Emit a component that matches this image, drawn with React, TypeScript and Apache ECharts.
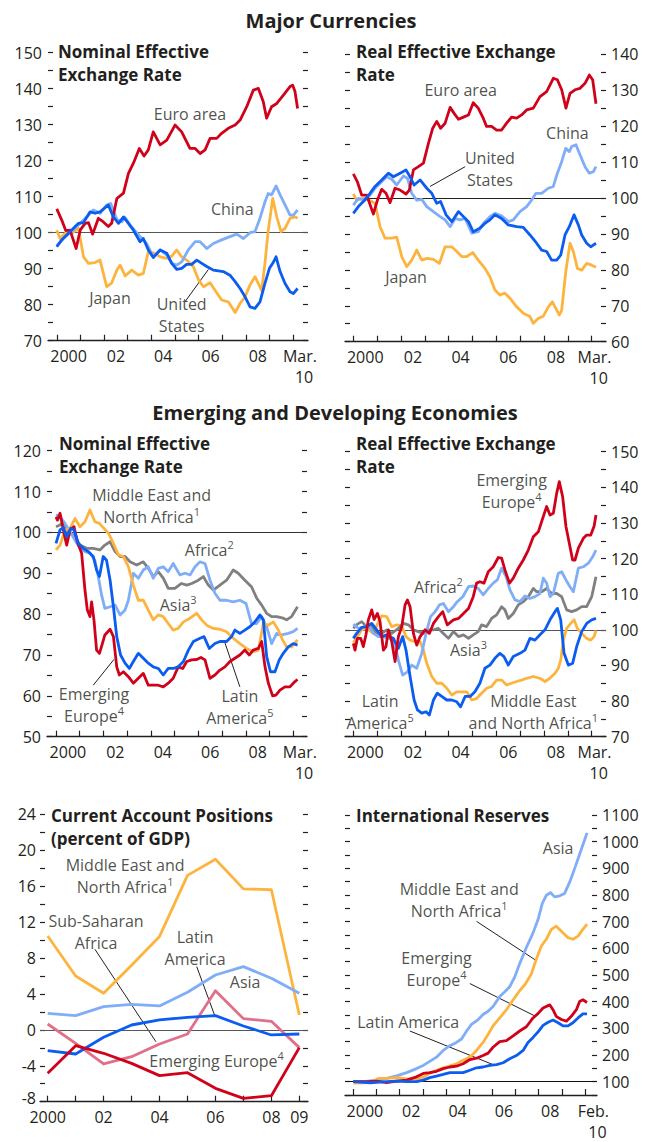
import React, { useEffect, useRef } from "react";
import * as echarts from "echarts";

const FONT = '"Open Sans", "Noto Sans", sans-serif';
const INK = "#231F20";
const RED = "#D0021B";
const ORANGE = "#FDB43F";
const LBLUE = "#7FADF7";
const BLUE = "#0B5CF0";
const GRAY = "#808080";
const PINK = "#E06F89";

type Pt = [number, number];

// ---------- axis ticks & labels ----------
const yearTicks = [2000, 2001, 2002, 2003, 2004, 2005, 2006, 2007, 2008, 2009, 2010];
const monthlyLabels = ["2000", "02", "04", "06", "08"];
const monthlyLabelAt = [2000.5, 2002.5, 2004.5, 2006.5, 2008.5];
const endLabelMar = "Mar.\n  10";
const endLabelFeb = "Feb.\n  10";
const caYears = [2000, 2001, 2002, 2003, 2004, 2005, 2006, 2007, 2008, 2009];
const caLabels = ["2000", "02", "04", "06", "08", "09"];
const caLabelAt = [2000, 2002, 2004, 2006, 2008, 2009];

// ---------- Major currencies: nominal effective exchange rate ----------
const neerEuro: Pt[] = [
  [2000.0, 106.6], [2000.21, 103.5], [2000.38, 100.6], [2000.56, 100.7], [2000.82, 95.6], [2000.99, 100.7],
  [2001.2, 102.6], [2001.34, 102.8], [2001.52, 99.6], [2001.76, 104.0], [2001.97, 103.0], [2002.18, 101.7],
  [2002.32, 102.6], [2002.54, 109.5], [2002.82, 111.0], [2003.03, 116.5], [2003.24, 119.3], [2003.49, 123.4],
  [2003.69, 121.3], [2003.87, 123.0], [2004.08, 128.0], [2004.37, 124.4], [2004.65, 125.7], [2005.0, 129.9],
  [2005.28, 128.0], [2005.63, 123.4], [2005.85, 123.4], [2006.06, 122.0], [2006.27, 123.0], [2006.48, 126.2],
  [2006.76, 126.2], [2006.97, 127.6], [2007.25, 129.0], [2007.54, 129.9], [2007.75, 131.3], [2008.03, 135.0],
  [2008.31, 139.6], [2008.52, 140.1], [2008.73, 136.4], [2008.87, 131.8], [2009.08, 135.0], [2009.3, 135.9],
  [2009.58, 138.2], [2009.86, 140.6], [2009.97, 141.0], [2010.07, 139.2], [2010.18, 134.5],
];
const neerJapan: Pt[] = [
  [2000.0, 100.7], [2000.14, 98.4], [2000.35, 99.8], [2000.63, 99.8], [2000.92, 101.2], [2001.13, 93.3],
  [2001.34, 91.5], [2001.62, 91.7], [2001.83, 92.4], [2002.11, 85.0], [2002.32, 86.0], [2002.54, 89.6],
  [2002.68, 91.0], [2002.89, 88.0], [2003.17, 89.6], [2003.45, 88.2], [2003.66, 88.7], [2003.87, 94.7],
  [2004.08, 94.4], [2004.37, 93.3], [2004.65, 92.9], [2004.86, 93.5], [2005.07, 95.2], [2005.28, 93.3],
  [2005.49, 92.4], [2005.77, 90.6], [2005.99, 86.9], [2006.2, 85.0], [2006.48, 86.1], [2006.69, 84.0],
  [2006.97, 81.3], [2007.25, 80.8], [2007.54, 77.8], [2007.75, 80.4], [2007.96, 82.2], [2008.17, 85.5],
  [2008.38, 87.8], [2008.66, 84.0], [2008.8, 91.5], [2008.94, 100.7], [2009.13, 109.5], [2009.3, 104.4],
  [2009.48, 100.3], [2009.65, 101.2], [2009.86, 104.0], [2010.07, 104.4], [2010.18, 104.0],
];
const neerChina: Pt[] = [
  [2000.0, 96.3], [2000.28, 98.4], [2000.63, 100.3], [2000.99, 102.6], [2001.27, 104.4], [2001.55, 106.3],
  [2001.83, 105.4], [2002.11, 107.7], [2002.28, 108.1], [2002.54, 103.7], [2002.75, 103.0], [2002.89, 104.2],
  [2003.1, 102.1], [2003.38, 100.0], [2003.59, 98.4], [2003.8, 97.0], [2004.08, 93.3], [2004.37, 95.2],
  [2004.65, 93.8], [2004.86, 91.5], [2005.07, 91.0], [2005.28, 91.9], [2005.56, 95.2], [2005.85, 97.5],
  [2006.06, 97.5], [2006.34, 95.6], [2006.62, 97.0], [2006.97, 98.0], [2007.32, 98.9], [2007.61, 99.6],
  [2007.89, 98.4], [2008.17, 100.0], [2008.38, 100.3], [2008.59, 104.0], [2008.8, 108.6], [2008.94, 110.9],
  [2009.08, 110.5], [2009.27, 113.0], [2009.44, 110.5], [2009.65, 107.7], [2009.86, 104.9], [2010.0, 104.9],
  [2010.18, 106.3],
];
const neerUS: Pt[] = [
  [2000.0, 96.1], [2000.21, 98.0], [2000.56, 100.3], [2000.92, 102.6], [2001.13, 102.8], [2001.41, 105.8],
  [2001.62, 105.4], [2001.83, 105.8], [2002.18, 107.7], [2002.39, 104.4], [2002.61, 102.6], [2002.82, 104.4],
  [2003.03, 102.6], [2003.24, 100.7], [2003.52, 97.5], [2003.66, 98.4], [2003.87, 95.2], [2004.08, 93.1],
  [2004.37, 95.2], [2004.65, 94.3], [2004.86, 91.5], [2005.07, 89.8], [2005.28, 90.1], [2005.49, 91.2],
  [2005.7, 91.2], [2005.92, 92.4], [2006.13, 91.5], [2006.34, 90.6], [2006.62, 89.6], [2007.04, 89.2],
  [2007.32, 88.2], [2007.54, 86.4], [2007.75, 84.5], [2007.96, 82.2], [2008.17, 79.4], [2008.38, 79.0],
  [2008.59, 80.8], [2008.8, 85.9], [2008.99, 90.1], [2009.13, 91.5], [2009.27, 93.3], [2009.44, 89.2],
  [2009.65, 85.9], [2009.86, 83.6], [2010.0, 83.1], [2010.18, 84.5],
];

// ---------- Major currencies: real effective exchange rate ----------
const reerEuro: Pt[] = [
  [2000.0, 106.7], [2000.17, 104.5], [2000.35, 100.8], [2000.56, 100.8], [2000.84, 95.5], [2001.01, 99.4],
  [2001.19, 102.4], [2001.37, 101.3], [2001.54, 98.7], [2001.75, 102.7], [2001.96, 102.2], [2002.21, 101.1],
  [2002.35, 102.2], [2002.52, 107.8], [2002.73, 108.7], [2002.94, 109.7], [2003.15, 115.2], [2003.33, 119.4],
  [2003.5, 121.3], [2003.66, 119.4], [2003.85, 120.8], [2004.06, 125.2], [2004.22, 123.6], [2004.41, 121.9],
  [2004.62, 122.5], [2004.83, 123.1], [2005.03, 126.5], [2005.24, 125.0], [2005.45, 122.2], [2005.59, 119.9],
  [2005.8, 119.9], [2006.01, 118.9], [2006.22, 118.9], [2006.43, 120.8], [2006.64, 122.5], [2006.85, 122.2],
  [2007.06, 123.1], [2007.27, 124.5], [2007.55, 125.0], [2007.83, 128.2], [2008.11, 129.6], [2008.39, 133.3],
  [2008.56, 132.9], [2008.74, 130.1], [2008.92, 125.0], [2009.09, 129.1], [2009.3, 130.1], [2009.51, 130.5],
  [2009.72, 131.9], [2009.9, 134.2], [2010.04, 132.9], [2010.18, 126.2],
];
const reerJapan: Pt[] = [
  [2000.0, 101.1], [2000.14, 99.4], [2000.42, 99.9], [2000.7, 99.3], [2000.91, 98.5], [2001.12, 92.0],
  [2001.33, 88.8], [2001.61, 88.8], [2001.82, 89.1], [2002.03, 83.7], [2002.24, 80.9], [2002.45, 82.7],
  [2002.66, 85.5], [2002.87, 82.7], [2003.08, 83.2], [2003.36, 82.9], [2003.61, 81.8], [2003.85, 86.4],
  [2004.13, 86.4], [2004.34, 85.1], [2004.55, 83.7], [2004.76, 83.7], [2005.01, 84.8], [2005.24, 82.7],
  [2005.52, 80.4], [2005.73, 78.1], [2005.94, 74.4], [2006.15, 73.0], [2006.36, 73.5], [2006.57, 72.1],
  [2006.85, 69.7], [2007.13, 67.9], [2007.41, 67.0], [2007.55, 65.1], [2007.76, 66.5], [2007.97, 67.1],
  [2008.18, 69.7], [2008.35, 71.1], [2008.46, 69.7], [2008.64, 67.4], [2008.74, 68.8], [2008.92, 79.9],
  [2009.09, 87.4], [2009.23, 85.1], [2009.4, 80.4], [2009.58, 79.9], [2009.79, 81.8], [2010.0, 81.3],
  [2010.18, 80.7],
];
const reerChina: Pt[] = [
  [2000.0, 98.0], [2000.21, 99.9], [2000.49, 99.4], [2000.7, 100.8], [2000.91, 102.7], [2001.12, 104.1],
  [2001.4, 105.9], [2001.61, 105.2], [2001.82, 103.6], [2002.1, 106.1], [2002.27, 105.5], [2002.45, 101.3],
  [2002.66, 99.4], [2002.87, 99.6], [2003.08, 97.6], [2003.36, 96.2], [2003.64, 94.8], [2003.85, 93.9],
  [2004.06, 92.0], [2004.27, 94.3], [2004.48, 93.9], [2004.69, 94.3], [2004.97, 90.2], [2005.24, 90.6],
  [2005.45, 92.9], [2005.73, 94.8], [2005.94, 95.7], [2006.22, 95.0], [2006.5, 93.4], [2006.71, 93.9],
  [2006.99, 96.2], [2007.27, 97.6], [2007.48, 99.4], [2007.66, 101.3], [2007.9, 101.3], [2008.18, 102.7],
  [2008.39, 103.2], [2008.56, 106.9], [2008.74, 110.1], [2008.91, 113.8], [2009.06, 112.9], [2009.16, 114.3],
  [2009.34, 114.8], [2009.51, 112.0], [2009.72, 108.7], [2009.9, 106.9], [2010.07, 107.3], [2010.18, 108.7],
];
const reerUS: Pt[] = [
  [2000.0, 95.7], [2000.21, 97.6], [2000.42, 99.0], [2000.7, 101.3], [2000.91, 103.2], [2001.19, 105.0],
  [2001.47, 106.9], [2001.68, 105.9], [2001.96, 106.9], [2002.21, 107.8], [2002.38, 105.9], [2002.55, 103.6],
  [2002.8, 105.0], [2003.08, 102.7], [2003.29, 101.3], [2003.5, 98.5], [2003.66, 99.0], [2003.89, 95.3],
  [2004.13, 93.4], [2004.41, 96.2], [2004.62, 94.8], [2004.83, 93.4], [2005.03, 90.6], [2005.31, 91.6],
  [2005.52, 92.9], [2005.73, 93.9], [2005.94, 95.3], [2006.22, 94.3], [2006.5, 92.5], [2006.85, 92.0],
  [2007.13, 91.8], [2007.41, 89.7], [2007.69, 87.4], [2007.9, 85.5], [2008.11, 85.1], [2008.32, 82.7],
  [2008.53, 82.7], [2008.7, 84.1], [2008.88, 89.7], [2009.06, 92.0], [2009.26, 95.3], [2009.44, 92.5],
  [2009.58, 89.7], [2009.79, 87.4], [2009.96, 86.4], [2010.18, 87.4],
];

// ---------- Emerging: nominal effective exchange rate ----------
const emNeerEurope: Pt[] = [
  [2000.0, 103.8], [2000.06, 103.0], [2000.17, 104.7], [2000.31, 100.6], [2000.45, 96.9], [2000.59, 100.6],
  [2000.76, 101.4], [2000.9, 97.7], [2001.08, 94.9], [2001.22, 85.9], [2001.32, 81.0], [2001.43, 79.4],
  [2001.5, 83.0], [2001.6, 78.6], [2001.71, 71.2], [2001.83, 70.4], [2001.92, 72.1], [2002.06, 74.9],
  [2002.28, 76.3], [2002.42, 74.5], [2002.56, 67.1], [2002.67, 65.1], [2002.84, 65.9], [2003.05, 64.7],
  [2003.26, 63.1], [2003.47, 64.3], [2003.68, 65.5], [2003.89, 62.6], [2004.1, 62.6], [2004.31, 62.6],
  [2004.52, 62.2], [2004.73, 63.1], [2004.94, 64.3], [2005.15, 67.1], [2005.34, 66.7], [2005.51, 68.4],
  [2005.72, 68.8], [2005.93, 68.9], [2006.11, 69.4], [2006.28, 68.8], [2006.49, 64.3], [2006.7, 65.1],
  [2006.91, 66.3], [2007.12, 67.1], [2007.33, 68.4], [2007.54, 69.2], [2007.75, 70.0], [2007.96, 71.2],
  [2008.15, 70.0], [2008.31, 71.2], [2008.53, 71.6], [2008.67, 73.3], [2008.81, 67.1], [2008.95, 63.1],
  [2009.13, 60.0], [2009.27, 60.2], [2009.44, 61.4], [2009.65, 62.2], [2009.86, 62.2], [2010.07, 63.5],
  [2010.18, 64.0],
];
const emNeerLatAm: Pt[] = [
  [2000.0, 97.3], [2000.17, 100.6], [2000.31, 101.2], [2000.45, 98.9], [2000.62, 101.0], [2000.76, 100.6],
  [2000.94, 97.3], [2001.15, 96.1], [2001.36, 95.3], [2001.57, 94.1], [2001.71, 90.8], [2001.83, 89.2],
  [2001.99, 94.1], [2002.13, 93.2], [2002.28, 88.3], [2002.42, 81.8], [2002.56, 74.5], [2002.72, 70.0],
  [2002.91, 68.0], [2003.09, 66.7], [2003.26, 68.4], [2003.47, 70.4], [2003.68, 69.2], [2003.89, 68.0],
  [2004.1, 67.1], [2004.31, 66.7], [2004.52, 65.1], [2004.73, 66.7], [2004.94, 66.7], [2005.15, 67.1],
  [2005.37, 68.4], [2005.58, 71.2], [2005.79, 73.3], [2006.07, 74.1], [2006.24, 74.5], [2006.46, 71.6],
  [2006.7, 72.8], [2006.91, 73.3], [2007.19, 73.3], [2007.4, 74.5], [2007.54, 76.1], [2007.75, 75.3],
  [2007.96, 76.1], [2008.17, 76.9], [2008.38, 78.1], [2008.6, 79.8], [2008.74, 78.6], [2008.88, 69.6],
  [2009.04, 65.9], [2009.23, 65.9], [2009.41, 68.8], [2009.58, 70.4], [2009.79, 72.0], [2010.0, 72.8],
  [2010.18, 72.4],
];
const emNeerAsia: Pt[] = [
  [2000.0, 101.4], [2000.17, 101.8], [2000.31, 102.6], [2000.52, 99.8], [2000.73, 99.4], [2001.01, 96.9],
  [2001.29, 96.1], [2001.57, 96.1], [2001.85, 95.7], [2002.06, 96.9], [2002.28, 97.7], [2002.49, 95.3],
  [2002.7, 94.1], [2002.91, 94.1], [2003.12, 92.8], [2003.4, 92.0], [2003.68, 92.8], [2003.89, 91.2],
  [2004.1, 89.2], [2004.31, 90.4], [2004.52, 88.8], [2004.73, 86.3], [2005.01, 86.3], [2005.29, 87.5],
  [2005.51, 87.1], [2005.72, 87.5], [2006.0, 88.3], [2006.21, 89.2], [2006.42, 87.1], [2006.63, 85.9],
  [2006.91, 87.1], [2007.19, 88.3], [2007.47, 90.8], [2007.68, 90.0], [2007.96, 88.3], [2008.24, 86.7],
  [2008.46, 83.9], [2008.67, 82.2], [2008.88, 80.2], [2009.09, 79.4], [2009.3, 79.4], [2009.58, 79.0],
  [2009.72, 78.6], [2009.93, 79.4], [2010.18, 81.8],
];
const emNeerAfrica: Pt[] = [
  [2000.0, 104.3], [2000.17, 103.8], [2000.38, 102.2], [2000.59, 100.2], [2000.8, 98.1], [2001.01, 96.1],
  [2001.22, 95.3], [2001.43, 94.9], [2001.64, 93.2], [2001.78, 89.2], [2001.92, 84.7], [2002.06, 81.4],
  [2002.28, 81.8], [2002.49, 82.2], [2002.7, 79.8], [2002.91, 81.0], [2003.05, 83.4], [2003.26, 90.0],
  [2003.47, 88.8], [2003.68, 90.8], [2003.89, 91.6], [2004.1, 88.8], [2004.31, 91.2], [2004.52, 91.6],
  [2004.73, 90.4], [2004.94, 92.4], [2005.22, 89.6], [2005.44, 90.0], [2005.65, 89.6], [2005.86, 91.6],
  [2006.07, 92.8], [2006.28, 92.4], [2006.49, 88.3], [2006.7, 85.1], [2006.91, 83.4], [2007.19, 83.4],
  [2007.47, 83.0], [2007.75, 83.4], [2008.01, 82.6], [2008.24, 77.7], [2008.46, 77.7], [2008.67, 79.4],
  [2008.88, 76.9], [2009.09, 72.8], [2009.3, 75.3], [2009.51, 74.9], [2009.79, 75.3], [2010.0, 75.7],
  [2010.18, 76.5],
];
const emNeerMENA: Pt[] = [
  [2000.0, 95.7], [2000.17, 96.9], [2000.38, 100.6], [2000.59, 101.0], [2000.8, 103.4], [2001.01, 101.4],
  [2001.22, 102.6], [2001.43, 105.5], [2001.64, 102.6], [2001.83, 102.2], [2002.02, 101.0], [2002.21, 99.8],
  [2002.42, 97.3], [2002.63, 94.5], [2002.84, 94.1], [2003.05, 91.6], [2003.26, 87.1], [2003.47, 83.4],
  [2003.68, 83.4], [2003.89, 81.0], [2004.1, 78.6], [2004.31, 79.8], [2004.52, 79.4], [2004.73, 77.7],
  [2004.94, 76.1], [2005.15, 76.5], [2005.37, 78.1], [2005.65, 79.0], [2005.93, 80.2], [2006.14, 78.6],
  [2006.35, 77.3], [2006.63, 76.5], [2006.91, 76.3], [2007.19, 75.7], [2007.47, 74.1], [2007.75, 72.8],
  [2008.03, 71.6], [2008.31, 70.8], [2008.53, 71.2], [2008.74, 77.7], [2008.95, 77.3], [2009.16, 78.1],
  [2009.37, 76.1], [2009.55, 73.7], [2009.72, 72.0], [2009.93, 72.0], [2010.18, 73.7],
];

// ---------- Emerging: real effective exchange rate ----------
const emReerEurope: Pt[] = [
  [2000.0, 96.2], [2000.07, 94.3], [2000.17, 97.6], [2000.31, 97.6], [2000.42, 95.3], [2000.53, 98.6],
  [2000.63, 102.8], [2000.77, 105.6], [2000.87, 102.9], [2001.01, 104.6], [2001.12, 102.3], [2001.26, 94.3],
  [2001.37, 95.3], [2001.47, 100.0], [2001.61, 96.7], [2001.75, 91.1], [2001.89, 98.1], [2002.03, 100.9],
  [2002.17, 107.0], [2002.27, 108.4], [2002.38, 106.5], [2002.52, 99.0], [2002.66, 95.7], [2002.8, 98.1],
  [2003.01, 100.0], [2003.19, 99.0], [2003.36, 101.8], [2003.57, 103.7], [2003.75, 105.1], [2003.94, 101.4],
  [2004.2, 102.8], [2004.41, 103.2], [2004.62, 104.6], [2004.83, 106.0], [2005.03, 109.3], [2005.17, 113.1],
  [2005.31, 113.5], [2005.48, 113.1], [2005.66, 116.3], [2005.87, 117.7], [2006.08, 120.3], [2006.22, 120.1],
  [2006.36, 116.8], [2006.55, 113.1], [2006.71, 114.5], [2006.92, 117.3], [2007.13, 119.6], [2007.34, 122.4],
  [2007.55, 126.1], [2007.76, 127.5], [2007.97, 131.8], [2008.11, 134.6], [2008.25, 132.2], [2008.39, 132.7],
  [2008.53, 138.3], [2008.64, 141.6], [2008.78, 137.4], [2008.92, 129.0], [2009.06, 124.3], [2009.2, 119.6],
  [2009.3, 119.6], [2009.44, 122.9], [2009.65, 125.7], [2009.79, 126.6], [2009.96, 126.6], [2010.1, 129.1],
  [2010.18, 132.2],
];
const emReerAfrica: Pt[] = [
  [2000.0, 101.6], [2000.21, 100.4], [2000.42, 100.7], [2000.63, 101.4], [2000.84, 99.0], [2001.05, 98.1],
  [2001.26, 98.1], [2001.47, 97.6], [2001.68, 97.6], [2001.89, 91.5], [2002.07, 87.3], [2002.27, 88.2],
  [2002.45, 90.1], [2002.66, 89.2], [2002.87, 93.4], [2003.05, 99.0], [2003.24, 103.7], [2003.43, 105.1],
  [2003.61, 107.0], [2003.78, 107.4], [2003.99, 105.1], [2004.2, 106.5], [2004.36, 107.9], [2004.59, 109.3],
  [2004.83, 112.1], [2005.03, 112.3], [2005.24, 111.6], [2005.45, 109.8], [2005.66, 111.6], [2005.87, 113.1],
  [2006.04, 114.0], [2006.22, 117.3], [2006.41, 114.9], [2006.57, 111.2], [2006.78, 108.4], [2006.99, 107.9],
  [2007.2, 109.5], [2007.41, 108.8], [2007.62, 109.3], [2007.83, 110.2], [2007.97, 114.5], [2008.11, 113.1],
  [2008.25, 109.3], [2008.39, 110.2], [2008.6, 115.9], [2008.74, 116.3], [2008.92, 114.0], [2009.09, 112.1],
  [2009.23, 110.7], [2009.44, 117.3], [2009.65, 117.7], [2009.86, 118.7], [2010.04, 120.5], [2010.18, 122.4],
];
const emReerAsia: Pt[] = [
  [2000.0, 100.4], [2000.17, 101.6], [2000.35, 102.3], [2000.56, 100.9], [2000.77, 101.1], [2000.98, 99.0],
  [2001.19, 99.0], [2001.4, 100.0], [2001.61, 99.0], [2001.89, 100.4], [2002.1, 101.8], [2002.31, 101.4],
  [2002.52, 100.0], [2002.73, 99.5], [2002.94, 99.0], [2003.15, 100.0], [2003.36, 100.0], [2003.57, 100.4],
  [2003.78, 99.0], [2003.99, 97.6], [2004.2, 99.5], [2004.41, 98.1], [2004.62, 98.6], [2004.83, 97.6],
  [2005.03, 98.6], [2005.24, 99.5], [2005.38, 101.4], [2005.59, 100.9], [2005.8, 103.2], [2006.01, 104.2],
  [2006.22, 106.5], [2006.36, 105.6], [2006.5, 103.2], [2006.71, 104.6], [2006.92, 107.0], [2007.13, 107.9],
  [2007.34, 109.3], [2007.55, 111.6], [2007.69, 110.7], [2007.9, 110.7], [2008.11, 111.6], [2008.32, 110.2],
  [2008.53, 110.2], [2008.74, 109.3], [2008.95, 105.6], [2009.16, 105.1], [2009.37, 105.6], [2009.58, 106.5],
  [2009.79, 106.5], [2010.0, 109.3], [2010.18, 114.9],
];
const emReerLatAm: Pt[] = [
  [2000.0, 97.6], [2000.14, 99.0], [2000.35, 100.7], [2000.56, 100.9], [2000.77, 101.8], [2000.98, 100.0],
  [2001.19, 98.1], [2001.4, 98.6], [2001.68, 97.6], [2001.89, 94.8], [2002.07, 98.1], [2002.21, 94.3],
  [2002.38, 86.9], [2002.55, 80.3], [2002.69, 77.5], [2002.87, 76.6], [2003.05, 77.0], [2003.19, 76.1],
  [2003.36, 80.3], [2003.52, 82.2], [2003.71, 81.3], [2003.92, 80.3], [2004.13, 80.3], [2004.34, 79.8],
  [2004.5, 78.4], [2004.69, 81.3], [2004.9, 81.3], [2005.1, 82.6], [2005.31, 85.0], [2005.52, 89.2],
  [2005.73, 90.1], [2005.94, 92.0], [2006.15, 93.4], [2006.32, 92.5], [2006.5, 90.1], [2006.71, 92.5],
  [2006.99, 93.4], [2007.2, 94.3], [2007.41, 97.6], [2007.62, 97.1], [2007.83, 98.6], [2008.04, 100.0],
  [2008.25, 102.8], [2008.46, 105.1], [2008.56, 106.0], [2008.7, 102.8], [2008.84, 93.4], [2009.02, 90.1],
  [2009.2, 90.6], [2009.37, 95.3], [2009.58, 99.5], [2009.79, 101.8], [2010.0, 102.8], [2010.18, 103.2],
];
const emReerMENA: Pt[] = [
  [2000.0, 96.4], [2000.17, 98.1], [2000.35, 100.0], [2000.56, 100.4], [2000.84, 99.0], [2001.01, 101.6],
  [2001.19, 103.9], [2001.4, 103.7], [2001.61, 100.9], [2001.82, 101.4], [2002.03, 101.1], [2002.21, 98.1],
  [2002.38, 97.1], [2002.59, 96.7], [2002.8, 96.7], [2002.94, 94.3], [2003.08, 90.6], [2003.29, 86.9],
  [2003.5, 85.0], [2003.71, 85.0], [2003.92, 83.6], [2004.13, 81.7], [2004.34, 82.6], [2004.76, 82.6],
  [2004.97, 80.3], [2005.17, 80.7], [2005.38, 82.2], [2005.59, 83.6], [2005.8, 84.1], [2006.01, 85.9],
  [2006.22, 85.9], [2006.43, 84.5], [2006.64, 85.0], [2006.85, 85.5], [2007.06, 85.9], [2007.27, 86.4],
  [2007.55, 86.9], [2007.83, 86.4], [2008.04, 85.5], [2008.25, 86.4], [2008.46, 87.8], [2008.6, 89.2],
  [2008.7, 91.5], [2008.81, 97.1], [2008.95, 100.4], [2009.12, 101.8], [2009.26, 102.8], [2009.4, 100.4],
  [2009.58, 99.0], [2009.79, 97.6], [2009.96, 97.1], [2010.1, 98.1], [2010.18, 99.8],
];

// ---------- Current account positions (percent of GDP), annual ----------
const caMENA = [10.45, 6.0, 4.07, 7.2, 10.4, 17.2, 19.0, 15.7, 15.6, 1.65];
const caAsia = [1.84, 1.58, 2.58, 2.84, 2.66, 4.18, 6.11, 7.04, 5.74, 4.07];
const caLatAm = [-2.32, -2.69, -0.83, 0.54, 1.1, 1.4, 1.58, 0.43, -0.57, -0.46];
const caSSA = [0.65, -1.5, -3.8, -2.99, -1.58, -0.46, 4.36, 1.25, 0.95, -1.98];
const caEurope = [-4.84, -1.76, -2.61, -3.73, -5.1, -4.77, -6.51, -7.63, -7.33, -1.98];

// ---------- International reserves ----------
const resAsia: Pt[] = [
  [2000.0, 100], [2000.43, 100], [2001.01, 106], [2001.44, 112], [2001.87, 122], [2002.3, 134],
  [2002.73, 149], [2003.02, 161], [2003.3, 176], [2003.59, 192], [2003.88, 217], [2004.17, 235],
  [2004.45, 247], [2004.67, 260], [2004.89, 290], [2005.1, 315], [2005.39, 333], [2005.6, 352],
  [2005.82, 364], [2006.03, 382], [2006.32, 419], [2006.54, 437], [2006.75, 456], [2006.97, 493],
  [2007.18, 542], [2007.47, 603], [2007.76, 658], [2007.97, 707], [2008.16, 769], [2008.33, 799],
  [2008.51, 809], [2008.69, 793], [2008.91, 797], [2009.12, 806], [2009.34, 848], [2009.55, 898],
  [2009.77, 953], [2009.99, 1008], [2010.09, 1033],
];
const resMENA: Pt[] = [
  [2000.0, 95], [2000.43, 96], [2000.86, 102], [2001.08, 112], [2001.44, 112], [2001.87, 115],
  [2002.3, 110], [2002.73, 110], [2003.02, 117], [2003.3, 131], [2003.59, 143], [2003.88, 152],
  [2004.17, 159], [2004.45, 167], [2004.74, 180], [2005.03, 192], [2005.32, 217], [2005.6, 247],
  [2005.82, 278], [2006.03, 309], [2006.32, 339], [2006.61, 370], [2006.9, 407], [2007.18, 441],
  [2007.44, 468], [2007.69, 505], [2007.9, 560], [2008.12, 609], [2008.33, 634], [2008.55, 671],
  [2008.76, 683], [2008.98, 664], [2009.27, 640], [2009.48, 634], [2009.7, 646], [2009.91, 671],
  [2010.09, 691],
];
const resEurope: Pt[] = [
  [2000.0, 100], [2000.57, 100], [2001.01, 102], [2001.44, 96], [2001.87, 102], [2002.3, 106],
  [2002.73, 118], [2003.02, 131], [2003.3, 134], [2003.59, 139], [2003.88, 149], [2004.17, 155],
  [2004.45, 158], [2004.74, 167], [2005.03, 183], [2005.32, 188], [2005.6, 198], [2005.82, 207],
  [2006.03, 229], [2006.32, 250], [2006.61, 254], [2006.9, 272], [2007.18, 290], [2007.47, 306],
  [2007.76, 339], [2007.97, 355], [2008.19, 376], [2008.48, 388], [2008.62, 370], [2008.76, 345],
  [2008.98, 333], [2009.2, 327], [2009.41, 345], [2009.63, 370], [2009.77, 401], [2009.91, 407],
  [2010.09, 397],
];
const resLatAm: Pt[] = [
  [2000.0, 100], [2000.72, 96], [2001.44, 100], [2001.87, 102], [2002.3, 100], [2002.73, 100],
  [2003.02, 106], [2003.3, 115], [2003.59, 121], [2003.88, 127], [2004.17, 134], [2004.74, 134],
  [2005.03, 143], [2005.32, 152], [2005.6, 155], [2005.89, 161], [2006.18, 164], [2006.47, 171],
  [2006.75, 186], [2007.04, 198], [2007.33, 217], [2007.54, 247], [2007.76, 266], [2007.97, 286],
  [2008.19, 311], [2008.41, 323], [2008.62, 331], [2008.84, 321], [2009.05, 309], [2009.27, 309],
  [2009.48, 321], [2009.7, 339], [2009.91, 354], [2010.09, 354],
];

// ---------- annotations (data coordinates) ----------
type Note = { x: number; y: number; text: string };
const neerNotes: Note[] = [
  { x: 2005.63, y: 133.1, text: "Euro area" },
  { x: 2007.42, y: 106.6, text: "China" },
  { x: 2002.25, y: 81.8, text: "Japan" },
  { x: 2005.28, y: 77.1, text: "United\nStates" },
];
const neerLeaders: Pt[][] = [[[2005.42, 80.8], [2006.41, 89.8]]];
const reerNotes: Note[] = [
  { x: 2004.5, y: 129.9, text: "Euro area" },
  { x: 2008.98, y: 118.0, text: "China" },
  { x: 2005.73, y: 108.1, text: "United\nStates" },
  { x: 2002.21, y: 77.9, text: "Japan" },
];
const reerLeaders: Pt[][] = [[[2004.69, 108.7], [2003.22, 103.2]]];
const emNeerNotes: Note[] = [
  { x: 2004.03, y: 106.5, text: "Middle East and\nNorth Africa{sup|1}" },
  { x: 2006.46, y: 95.7, text: "Africa{sup|2}" },
  { x: 2005.15, y: 82.2, text: "Asia{sup|3}" },
  { x: 2001.6, y: 57.7, text: "Emerging\nEurope{sup|4}" },
  { x: 2007.75, y: 57.3, text: "Latin\nAmerica{sup|5}" },
];
const emNeerLeaders: Pt[][] = [
  [[2001.57, 62.6], [2002.44, 68.9]],
  [[2007.75, 62.2], [2007.12, 73.0]],
];
const emReerNotes: Note[] = [
  { x: 2006.64, y: 139.1, text: "Emerging\nEurope{sup|4}" },
  { x: 2003.57, y: 112.1, text: "Africa{sup|2}" },
  { x: 2004.83, y: 94.3, text: "Asia{sup|3}" },
  { x: 2001.12, y: 76.8, text: "Latin\nAmerica{sup|5}" },
  { x: 2007.55, y: 76.8, text: "Middle East\nand North Africa{sup|1}" },
];
const caNotes: Note[] = [
  { x: 2002.77, y: 17.13, text: "Middle East and\nNorth Africa{sup|1}" },
  { x: 2001.73, y: 10.93, text: "Sub-Saharan\nAfrica" },
  { x: 2005.27, y: 9.08, text: "Latin\nAmerica" },
  { x: 2007.06, y: 5.37, text: "Asia" },
  { x: 2006.04, y: -3.47, text: "Emerging Europe{sup|4}" },
];
const caLeaders: Pt[][] = [
  [[2001.69, 8.97], [2003.87, -1.32]],
  [[2005.33, 7.04], [2005.98, 1.54]],
];
const resNotes: Note[] = [
  { x: 2008.84, y: 977, text: "Asia" },
  { x: 2004.57, y: 781, text: "Middle East and\nNorth Africa{sup|1}" },
  { x: 2003.59, y: 523, text: "Emerging\nEurope{sup|4}" },
  { x: 2002.37, y: 323, text: "Latin America" },
];
const resLeaders: Pt[][] = [
  [[2005.32, 701], [2007.9, 554]],
  [[2005.03, 468], [2007.87, 345]],
  [[2002.44, 290], [2006.03, 164]],
];

const toPairs = (xs: number[], ys: number[]): Pt[] => xs.map((x, i) => [x, ys[i]]);

type Panel = {
  box: [number, number, number, number];
  x: [number, number];
  y: [number, number];
  step: number;
  every: number;
  side: "left" | "right";
  margin: number;
  liftMin?: boolean;
  ticks: number[];
  labelAt: number[];
  labels: string[];
  lines: { data: Pt[]; color: string }[];
  ref: number;
  refColor: string;
  notes: Note[];
  leaders: Pt[][];
};

const panels: Panel[] = [
  {
    box: [48, 52.7, 260, 288], x: [1999.63, 2010.62], y: [70, 150], step: 5, every: 10, side: "left", margin: 6,
    ticks: yearTicks, labelAt: [...monthlyLabelAt, 2010.28], labels: [...monthlyLabels, endLabelMar],
    lines: [
      { data: neerJapan, color: ORANGE }, { data: neerChina, color: LBLUE },
      { data: neerEuro, color: RED }, { data: neerUS, color: BLUE },
    ],
    ref: 100, refColor: "#555555", notes: neerNotes, leaders: neerLeaders,
  },
  {
    box: [345, 54.2, 261, 287.5], x: [1999.65, 2010.6], y: [60, 140], step: 5, every: 10, side: "right", margin: 5,
    ticks: yearTicks, labelAt: [...monthlyLabelAt, 2010.12], labels: [...monthlyLabels, endLabelMar],
    lines: [
      { data: reerJapan, color: ORANGE }, { data: reerChina, color: LBLUE },
      { data: reerEuro, color: RED }, { data: reerUS, color: BLUE },
    ],
    ref: 100, refColor: "#222222", notes: reerNotes, leaders: reerLeaders,
  },
  {
    box: [47, 450.7, 260, 286], x: [1999.62, 2010.58], y: [50, 120], step: 5, every: 10, side: "left", margin: 6,
    ticks: yearTicks, labelAt: [...monthlyLabelAt, 2010.28], labels: [...monthlyLabels, endLabelMar],
    lines: [
      { data: emNeerAsia, color: GRAY }, { data: emNeerAfrica, color: LBLUE },
      { data: emNeerMENA, color: ORANGE }, { data: emNeerEurope, color: RED },
      { data: emNeerLatAm, color: BLUE },
    ],
    ref: 100, refColor: "#333333", notes: emNeerNotes, leaders: emNeerLeaders,
  },
  {
    box: [345, 451.7, 261, 285], x: [1999.65, 2010.6], y: [70, 150], step: 5, every: 10, side: "right", margin: 5,
    ticks: yearTicks, labelAt: [...monthlyLabelAt, 2010.12], labels: [...monthlyLabels, endLabelMar],
    lines: [
      { data: emReerMENA, color: ORANGE }, { data: emReerAsia, color: GRAY },
      { data: emReerAfrica, color: LBLUE }, { data: emReerLatAm, color: BLUE },
      { data: emReerEurope, color: RED },
    ],
    ref: 100, refColor: "#555555", notes: emReerNotes, leaders: [],
  },
  {
    box: [40, 814.3, 268, 287.4], x: [1999.725, 2009.31], y: [-8, 24], step: 2, every: 4, side: "left", margin: 4,
    liftMin: true,
    ticks: caYears, labelAt: caLabelAt, labels: caLabels,
    lines: [
      { data: toPairs(caYears, caMENA), color: ORANGE }, { data: toPairs(caYears, caAsia), color: LBLUE },
      { data: toPairs(caYears, caSSA), color: PINK }, { data: toPairs(caYears, caLatAm), color: BLUE },
      { data: toPairs(caYears, caEurope), color: RED },
    ],
    ref: 0, refColor: "#555555", notes: caNotes, leaders: caLeaders,
  },
  {
    box: [345, 815, 252, 286.5], x: [1999.64, 2010.52], y: [50, 1100], step: 50, every: 100, side: "right", margin: 5,
    ticks: yearTicks, labelAt: [...monthlyLabelAt, 2010.36], labels: [...monthlyLabels, endLabelFeb],
    lines: [
      { data: resAsia, color: LBLUE }, { data: resMENA, color: ORANGE },
      { data: resEurope, color: RED }, { data: resLatAm, color: BLUE },
    ],
    ref: 100, refColor: "#111111", notes: resNotes, leaders: resLeaders,
  },
];

const headings = [
  { text: "Major Currencies", x: 331, y: 20, size: 20, align: "center", vAlign: "middle" },
  { text: "Emerging and Developing Economies", x: 335, y: 412, size: 20, align: "center", vAlign: "middle" },
  { text: "Nominal Effective\nExchange Rate", x: 58, y: 40, size: 17, align: "left", vAlign: "top" },
  { text: "Real Effective Exchange\nRate", x: 356, y: 40, size: 17, align: "left", vAlign: "top" },
  { text: "Nominal Effective\nExchange Rate", x: 59, y: 432, size: 17, align: "left", vAlign: "top" },
  { text: "Real Effective Exchange\nRate", x: 356, y: 432, size: 17, align: "left", vAlign: "top" },
  { text: "Current Account Positions\n(percent of GDP)", x: 51, y: 803.5, size: 17, align: "left", vAlign: "top" },
  { text: "International Reserves", x: 356, y: 803.5, size: 17, align: "left", vAlign: "top" },
];

function buildOption() {
  const grid: any[] = [];
  const xAxis: any[] = [];
  const yAxis: any[] = [];
  const series: any[] = [];
  panels.forEach((p, i) => {
    grid.push({ left: p.box[0], top: p.box[1], width: p.box[2], height: p.box[3] });
    const lblPos = p.labelAt;
    const lblTxt = p.labels;
    xAxis.push({
      gridIndex: i, type: "value", min: p.x[0], max: p.x[1],
      axisLine: { show: true, onZero: false, lineStyle: { color: INK, width: 1.3 } },
      axisTick: { show: true, inside: true, length: 6, customValues: p.ticks, lineStyle: { color: INK, width: 1.2 } },
      axisLabel: {
        customValues: lblPos,
        formatter: (v: number) => {
          const k = lblPos.findIndex((q) => Math.abs(q - v) < 1e-6);
          return k >= 0 ? lblTxt[k] : "";
        },
        fontSize: 16, color: INK, fontFamily: FONT, margin: 5, lineHeight: 21,
      },
      splitLine: { show: false },
    });
    (["left", "right"] as const).forEach((side) => {
      yAxis.push({
        gridIndex: i, type: "value", position: side, min: p.y[0], max: p.y[1], interval: p.step,
        axisLine: { show: false, onZero: false },
        axisTick: { show: true, inside: true, length: 5, lineStyle: { color: INK, width: 1.2 } },
        axisLabel: {
          show: side === p.side,
          formatter: (v: number) => {
            if (Math.round(v) % p.every !== 0) return "";
            if (p.liftMin && v === p.y[0]) return "{lo|" + v + "}";
            return String(v);
          },
          fontSize: 16, color: INK, fontFamily: FONT, margin: p.margin,
          rich: { lo: { fontSize: 16, color: INK, fontFamily: FONT, padding: [0, 0, 8, 0] } },
        },
        splitLine: { show: false },
      });
    });
    const yIdx = i * 2;
    p.leaders.forEach((seg) => {
      series.push({
        type: "line", xAxisIndex: i, yAxisIndex: yIdx, data: seg, symbol: "none", silent: true, z: 1,
        lineStyle: { color: INK, width: 1 },
      });
    });
    p.lines.forEach((ln, k) => {
      series.push({
        type: "line", xAxisIndex: i, yAxisIndex: yIdx, data: ln.data, symbol: "none", showSymbol: false,
        silent: true, z: 3,
        lineStyle: { color: ln.color, width: 2.8, join: "round" }, itemStyle: { color: ln.color },
        markLine: k === 0 ? {
          silent: true, symbol: "none", z: 2, label: { show: false },
          lineStyle: { color: p.refColor, width: 1.2, type: "solid" },
          data: [{ yAxis: p.ref }],
        } : undefined,
      });
    });
    series.push({
      type: "scatter", xAxisIndex: i, yAxisIndex: yIdx, symbolSize: 0, silent: true, z: 5,
      data: p.notes.map((n) => ({ value: [n.x, n.y], name: n.text })),
      label: {
        show: true, position: "inside", formatter: (q: any) => q.name,
        fontSize: 16, lineHeight: 22, color: INK, fontFamily: FONT, align: "center",
        rich: { sup: { fontSize: 11, lineHeight: 13, verticalAlign: "top", color: INK, fontFamily: FONT } },
      },
    });
  });

  const graphic = headings.map((h) => ({
    type: "text", x: h.x, y: h.y, silent: true,
    style: {
      text: h.text, fill: INK, fontFamily: FONT, fontWeight: "bold", fontSize: h.size,
      lineHeight: 23, textAlign: h.align, textVerticalAlign: h.vAlign,
    },
  }));

  return {
    animation: false,
    backgroundColor: "#ffffff",
    textStyle: { fontFamily: FONT },
    grid, xAxis, yAxis, series, graphic,
  };
}

export default function App() {
  const ref = useRef<HTMLDivElement>(null);
  useEffect(() => {
    document.body.style.margin = "0";
    if (!ref.current) return;
    const chart = echarts.init(ref.current, null, { renderer: "svg" });
    chart.setOption(buildOption() as any);
    return () => chart.dispose();
  }, []);
  return <div ref={ref} style={{ width: 649, height: 1142 }} />;
}
